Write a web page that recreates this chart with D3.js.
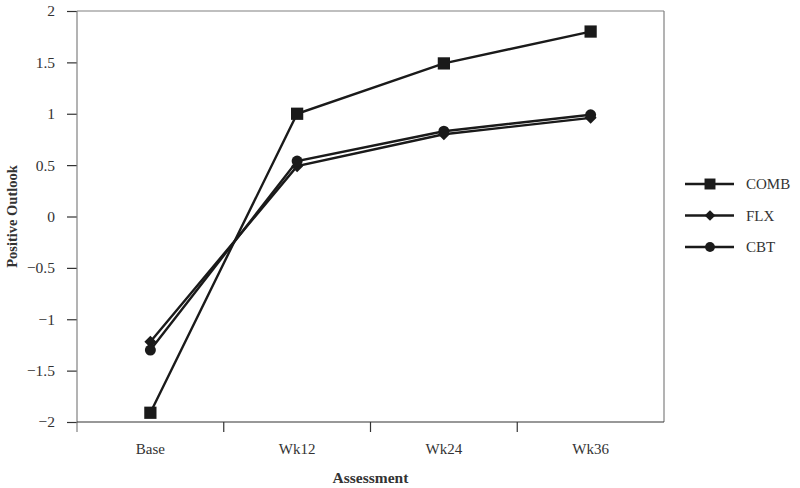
<!DOCTYPE html>
<html>
<head>
    <script src="https://cdnjs.cloudflare.com/ajax/libs/d3/7.8.5/d3.min.js"></script>
    <style>
        html, body {
            margin: 0;
            padding: 0;
            background: #ffffff;
        }
        #chart {
            width: 800px;
            height: 488px;
        }
        text {
            font-family: 'Liberation Serif', 'Times New Roman', serif;
            fill: #333;
        }
    </style>
</head>
<body>
    <div id="chart"></div>
    <script>
        const categories = ['Base', 'Wk12', 'Wk24', 'Wk36'];
        const seriesNames = ['COMB', 'FLX', 'CBT'];
        const combValues = [-1.91, 1.0, 1.49, 1.80];
        const flxValues = [-1.22, 0.49, 0.80, 0.96];
        const cbtValues = [-1.30, 0.54, 0.83, 0.99];
        const yTicks = [2, 1.5, 1, 0.5, 0, -0.5, -1, -1.5, -2];

        // squat diamond (square turned 45deg)
        const diamond = {
            draw(ctx, size) {
                const r = Math.sqrt(size / 2);
                ctx.moveTo(0, -r);
                ctx.lineTo(r, 0);
                ctx.lineTo(0, r);
                ctx.lineTo(-r, 0);
                ctx.closePath();
            }
        };

        const series = [
            { name: seriesNames[0], values: combValues, symbol: d3.symbolSquare, size: 150 },
            { name: seriesNames[1], values: flxValues, symbol: diamond, size: 72 },
            { name: seriesNames[2], values: cbtValues, symbol: d3.symbolCircle, size: 95 }
        ];

        const width = 800, height = 488;
        const margin = { top: 11, right: 136, bottom: 66, left: 77 };
        const plotW = width - margin.left - margin.right;
        const plotH = height - margin.top - margin.bottom;

        const svg = d3.select('#chart')
            .append('svg')
            .attr('width', width)
            .attr('height', height);

        const g = svg.append('g')
            .attr('transform', 'translate(' + margin.left + ',' + margin.top + ')');

        const x = d3.scaleBand()
            .domain(categories)
            .range([0, plotW]);

        const y = d3.scaleLinear()
            .domain([-2, 2])
            .range([plotH, 0]);

        const axisColor = '#808080';

        // frame top / right
        g.append('line')
            .attr('x1', 0).attr('x2', plotW)
            .attr('y1', 0).attr('y2', 0)
            .attr('stroke', axisColor).attr('stroke-width', 1.2);
        g.append('line')
            .attr('x1', plotW).attr('x2', plotW)
            .attr('y1', 0).attr('y2', plotH)
            .attr('stroke', axisColor).attr('stroke-width', 1.2);

        // y axis
        const yAxis = d3.axisLeft(y)
            .tickValues(yTicks)
            .tickSize(10)
            .tickPadding(12)
            .tickFormat(d => (d < 0 ? '\u2212' + Math.abs(d) : String(d)));

        const yg = g.append('g').call(yAxis);
        yg.select('.domain').remove();
        yg.selectAll('.tick line').attr('stroke', '#333').attr('stroke-width', 1.2);
        yg.selectAll('.tick text')
            .style('font-size', '15.5px')
            .style('font-family', "'Liberation Serif', serif")
            .attr('fill', '#333');
        g.append('line')
            .attr('x1', 0).attr('x2', 0)
            .attr('y1', 0).attr('y2', plotH + 10)
            .attr('stroke', axisColor).attr('stroke-width', 1.2);

        // x axis
        g.append('line')
            .attr('x1', 0).attr('x2', plotW)
            .attr('y1', plotH).attr('y2', plotH)
            .attr('stroke', '#333').attr('stroke-width', 1.2);

        const xg = g.append('g')
            .attr('transform', 'translate(0,' + plotH + ')');
        xg.selectAll('line.sep')
            .data(categories.slice(1))
            .enter()
            .append('line')
            .attr('class', 'sep')
            .attr('x1', d => x(d)).attr('x2', d => x(d))
            .attr('y1', 0).attr('y2', 10)
            .attr('stroke', '#333').attr('stroke-width', 1.2);
        xg.selectAll('text.cat')
            .data(categories)
            .enter()
            .append('text')
            .attr('class', 'cat')
            .attr('x', d => x(d) + x.bandwidth() / 2)
            .attr('y', 32)
            .attr('text-anchor', 'middle')
            .style('font-size', '15px')
            .text(d => d);

        // axis titles
        svg.append('text')
            .attr('x', margin.left + plotW / 2)
            .attr('y', 483)
            .attr('text-anchor', 'middle')
            .style('font-size', '15.5px')
            .style('font-weight', 'bold')
            .text('Assessment');

        svg.append('text')
            .attr('transform', 'translate(17,' + (margin.top + plotH / 2) + ') rotate(-90)')
            .attr('text-anchor', 'middle')
            .style('font-size', '14.5px')
            .style('font-weight', 'bold')
            .text('Positive Outlook');

        // series
        const line = d3.line()
            .x((d, i) => x(categories[i]) + x.bandwidth() / 2)
            .y(d => y(d));

        series.forEach(s => {
            g.append('path')
                .datum(s.values)
                .attr('d', line)
                .attr('fill', 'none')
                .attr('stroke', '#1a1a1a')
                .attr('stroke-width', 2.4);
        });

        series.forEach(s => {
            g.selectAll(null)
                .data(s.values)
                .enter()
                .append('path')
                .attr('d', d3.symbol().type(s.symbol).size(s.size))
                .attr('transform', (d, i) => 'translate(' + (x(categories[i]) + x.bandwidth() / 2) + ',' + y(d) + ')')
                .attr('fill', '#1a1a1a');
        });

        // legend
        const legend = svg.append('g')
            .attr('transform', 'translate(685,184)');
        const item = legend.selectAll('g')
            .data(series)
            .enter()
            .append('g')
            .attr('transform', (d, i) => 'translate(0,' + (i * 31.5) + ')');
        item.append('line')
            .attr('x1', 0).attr('x2', 49)
            .attr('y1', 0).attr('y2', 0)
            .attr('stroke', '#1a1a1a')
            .attr('stroke-width', 2.6);
        item.append('path')
            .attr('d', d => d3.symbol().type(d.symbol).size(d.size * 0.8)())
            .attr('transform', 'translate(25,0)')
            .attr('fill', '#1a1a1a');
        item.append('text')
            .attr('x', 61)
            .attr('y', 5)
            .style('font-size', '15px')
            .text(d => d.name);
    </script>
</body>
</html>
